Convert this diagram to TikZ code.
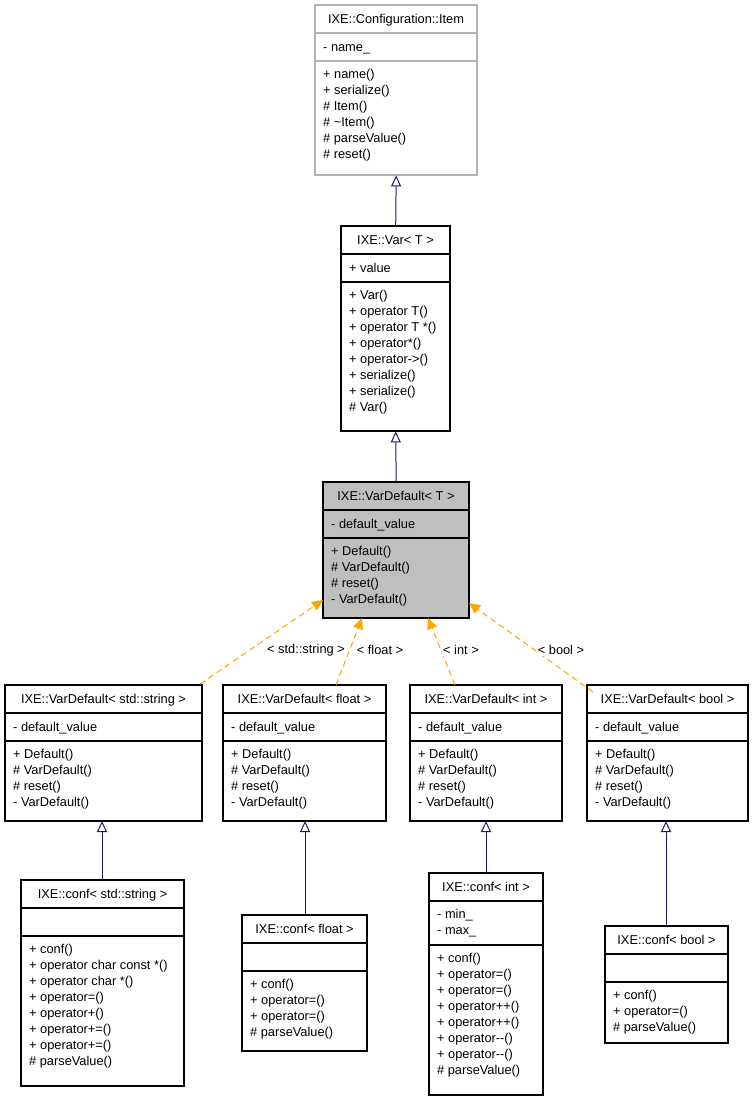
\documentclass[tikz,border=0pt]{standalone}
\usepackage{fontspec}
\setmainfont{Liberation Sans}
\defaultfontfeatures{Ligatures=NoCommon}
\usetikzlibrary{arrows.meta}
\definecolor{navy}{HTML}{191970}
\definecolor{org}{HTML}{FFA500}
\tikzset{
 txt/.style={anchor=base west,inner sep=0pt,font=\fontsize{12.8}{14}\selectfont},
 ttl/.style={anchor=base,inner sep=0pt,font=\fontsize{12.8}{14}\selectfont},
 boxl/.style={draw=black,line width=1.1pt},
 greyl/.style={draw=black!30,line width=1.1pt},
 inh/.style={draw=navy,line width=1pt,-{Triangle[open,length=11pt,width=10pt]}},
 tmpl/.style={draw=org,line width=1pt,dashed,dash pattern=on 6pt off 4pt,-{Triangle[length=11pt,width=10pt,fill=org]}},
 lbl/.style={font=\fontsize{12.8}{14}\selectfont,inner sep=1pt}
}
\newcommand\cls[9]{%
 \path[#8,fill=#9] (#2,#3) rectangle (#2+#4,#5);
 \node[inner sep=0pt,minimum width=#4pt,minimum height=#5pt-#3pt,anchor=north west] (#1) at (#2,#3) {};
 \draw[#8] (#2,#6) -- (#2+#4,#6);
 \draw[#8] (#2,#7) -- (#2+#4,#7);
}
\newcommand\lns[3]{\foreach \t [count=\i] in {#3} \node[txt] at (#1+8,#2+\i*16-16) {\t};}
\newcommand\ttlat[3]{\node[ttl] at (#1,#2) {#3};}
\begin{document}
\begin{tikzpicture}[x=1pt,y=-1pt]
\path[use as bounding box] (0,0) rectangle (752,1101);
\cls{item}{315}{5}{162}{175}{33}{61}{greyl}{white}
\ttlat{396}{23}{IXE::Configuration::Item}
\lns{315}{51}{- name\_}
\lns{315}{78}{+ name(),+ serialize(),\# Item(),\# \textasciitilde Item(),\# parseValue(),\# reset()}
\cls{var}{341}{226}{109}{431}{254}{282}{boxl}{white}
\ttlat{395.5}{244}{IXE::Var< T >}
\lns{341}{272}{+ value}
\lns{341}{299}{+ Var(),+ operator T(),+ operator T *(),+ operator*(),+ operator->(),+ serialize(),+ serialize(),\# Var()}
\cls{vd}{323}{482}{146}{618}{510}{538}{boxl}{black!25}
\ttlat{396}{500}{IXE::VarDefault< T >}
\lns{323}{528}{- default\_value}
\lns{323}{555}{+ Default(),\# VarDefault(),\# reset(),- VarDefault()}
\cls{vs}{5}{685}{197}{821}{713}{741}{boxl}{white}
\ttlat{103.5}{703}{IXE::VarDefault< std::string >}
\cls{vf}{223}{685}{163}{821}{713}{741}{boxl}{white}
\ttlat{304.5}{703}{IXE::VarDefault< float >}
\cls{vi}{410}{685}{152}{821}{713}{741}{boxl}{white}
\ttlat{486}{703}{IXE::VarDefault< int >}
\cls{vb}{587}{685}{161}{821}{713}{741}{boxl}{white}
\ttlat{667.5}{703}{IXE::VarDefault< bool >}
\foreach \xx in {5,223,410,587}{
 \lns{\xx}{731}{- default\_value}
 \lns{\xx}{758}{+ Default(),\# VarDefault(),\# reset(),- VarDefault()}
}
\cls{cs}{21}{880}{163}{1086}{908}{936}{boxl}{white}
\ttlat{102.5}{898}{IXE::conf< std::string >}
\lns{21}{953}{+ conf(),+ operator char const *(),+ operator char *(),+ operator=(),+ operator+(),+ operator+=(),+ operator+=(),\# parseValue()}
\cls{cf}{242}{915}{125}{1051}{943}{971}{boxl}{white}
\ttlat{304.5}{933}{IXE::conf< float >}
\lns{242}{988}{+ conf(),+ operator=(),+ operator=(),\# parseValue()}
\cls{ci}{429}{873}{114}{1095}{901}{945}{boxl}{white}
\ttlat{486}{891}{IXE::conf< int >}
\lns{429}{918}{- min\_,- max\_}
\lns{429}{962}{+ conf(),+ operator=(),+ operator=(),+ operator++(),+ operator++(),+ operator-{}-(),+ operator-{}-(),\# parseValue()}
\cls{cb}{605}{926}{123}{1043}{954}{982}{boxl}{white}
\ttlat{666.5}{944}{IXE::conf< bool >}
\lns{605}{999}{+ conf(),+ operator=(),\# parseValue()}
\draw[inh] (var.north) -- (item.south);
\draw[inh] (vd.north) -- (var.south);
\draw[inh] (cs.north -| 102,0) -- (102,821);
\draw[inh] (cf.north -| 305,0) -- (305,821);
\draw[inh] (ci.north -| 486,0) -- (486,821);
\draw[inh] (cb.north -| 666,0) -- (666,821);
\coordinate (a1) at (200,684); \coordinate (b1) at (323,600);
\coordinate (a2) at (336,685); \coordinate (b2) at (362,618);
\coordinate (a3) at (455,685); \coordinate (b3) at (428,618);
\coordinate (a4) at (593,692); \coordinate (b4) at (469,603);
\draw[tmpl] (a1) -- (b1);
\draw[tmpl] (a2) -- (b2);
\draw[tmpl] (a3) -- (b3);
\draw[tmpl] (a4) -- (b4);
\node[lbl,fill=white] at (306,650) {< std::string >};
\node[lbl,fill=white] at (380,650) {< float >};
\node[lbl,fill=white] at (461,650) {< int >};
\node[lbl,fill=white] at (561,650) {< bool >};
\end{tikzpicture}
\end{document}
